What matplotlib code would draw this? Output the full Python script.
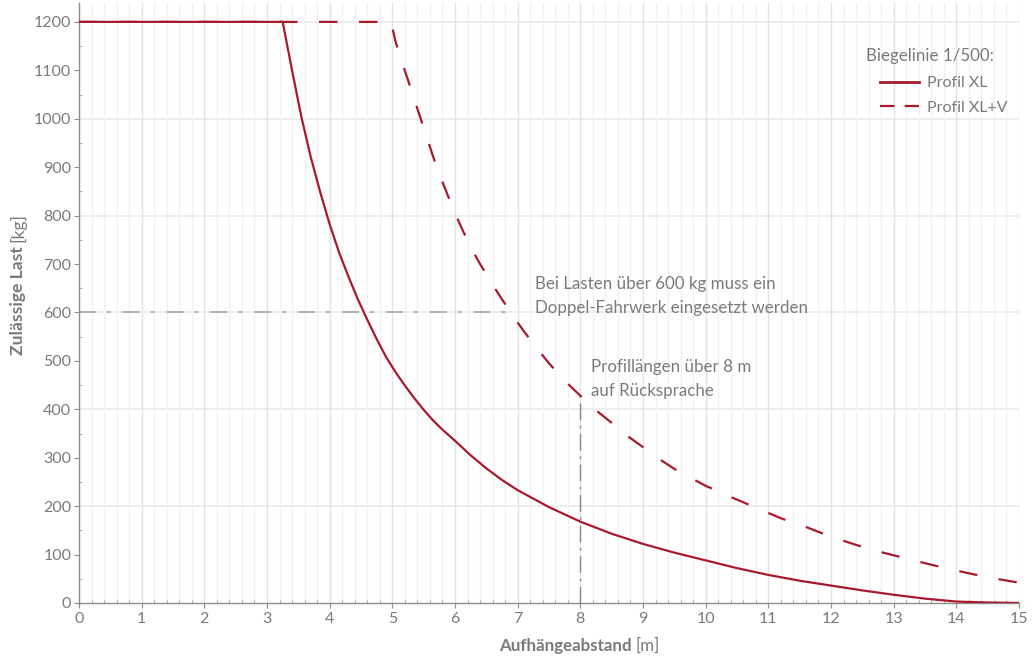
import matplotlib
matplotlib.use("Agg")
import matplotlib.pyplot as plt
from matplotlib.lines import Line2D
from matplotlib.ticker import MultipleLocator

plt.rcParams['font.family'] = ['Lato', 'DejaVu Sans']

# ---- data ----
x_xl = [0, 3.25, 3.4, 3.55, 3.7, 3.85, 4.0, 4.15, 4.3, 4.45, 4.6, 4.75, 4.9, 5.05,
        5.2, 5.35, 5.5, 5.65, 5.8, 6.0, 6.25, 6.5, 6.75, 7.0, 7.5, 8.0, 8.5, 9.0,
        9.5, 10.0, 10.5, 11.0, 11.5, 12.0, 12.5, 13.0, 13.5, 14.0, 14.5, 15.0]
y_xl = [1200, 1200, 1100, 1003, 920, 848, 782, 724, 674, 627, 585, 545, 508, 477,
        449, 423, 399, 377, 358, 335, 305, 278, 254, 233, 198, 168, 143, 122,
        104, 88, 72, 58, 46, 36, 26, 17, 9, 3, 1, 0]

x_xlv = [0, 4.98, 5.05, 5.15, 5.25, 5.35, 5.45, 5.55, 5.65, 5.75, 5.875, 6.0, 6.125,
         6.25, 6.4, 6.6, 6.75, 6.95, 7.1, 7.3, 7.5, 7.75, 8.0, 8.25, 8.5, 8.75, 9.0,
         9.25, 9.5, 9.75, 10.0, 10.4, 10.8, 11.2, 11.6, 12.0, 12.4, 12.8, 13.2, 13.6,
         14.0, 14.5, 15.0]
y_xlv = [1200, 1200, 1160, 1118, 1080, 1040, 1001, 962, 922, 886, 845, 805, 769,
         735, 700, 657, 627, 588, 561, 527, 495, 459, 428, 398, 372, 345, 322,
         298, 277, 259, 242, 219, 197, 175, 157, 137, 120, 105, 92, 79,
         67, 53, 42]

limit_load = 600          # Doppel-Fahrwerk limit
limit_load_x_end = 6.82   # where XL+V meets 600 kg
limit_length = 8          # Profillänge limit
limit_length_y_end = 430

series_labels = ['Profil XL', 'Profil XL+V']
legend_title = 'Biegelinie 1/500:'
note_load = 'Bei Lasten über 600 kg muss ein\nDoppel-Fahrwerk eingesetzt werden'
note_length = 'Profillängen über 8 m\nauf Rücksprache'

RED = '#A8192E'
GRAY_TXT = '#7a7a7a'
FS = 11.5
FS_T = 12.2

W, H = 1034, 662
fig = plt.figure(figsize=(W / 100, H / 100), dpi=100)
ax = fig.add_axes([79 / W, 1 - 603 / H, 940 / W, 600 / H])

ax.set_xlim(0, 15)
ax.set_ylim(0, 1239)

# grid
ax.xaxis.set_major_locator(MultipleLocator(1))
ax.xaxis.set_minor_locator(MultipleLocator(0.2))
ax.yaxis.set_major_locator(MultipleLocator(100))
ax.yaxis.set_minor_locator(MultipleLocator(50))
ax.grid(which='major', axis='x', color='#e3e3e3', lw=1.0, zorder=0)
ax.grid(which='minor', axis='x', color='#f1f1f1', lw=1.0, zorder=0)
for yv in range(200, 1201, 200):
    ax.axhline(yv, color='#e8e8e8', lw=1.1, zorder=0.5)

for s in ['top', 'right']:
    ax.spines[s].set_visible(False)
for s in ['left', 'bottom']:
    ax.spines[s].set_color('#8c8c8c')
    ax.spines[s].set_linewidth(1.0)

ax.tick_params(which='major', direction='out', length=3.5, color='#8c8c8c',
               labelcolor=GRAY_TXT, labelsize=FS, pad=2)
ax.tick_params(which='minor', direction='in', length=2.5, color='#a0a0a0')
ax.tick_params(axis='x', which='major', pad=3)

# reference lines
ax.plot([0, limit_load_x_end], [limit_load, limit_load], color='#a0a0a0', lw=1.1,
        linestyle=(0, (11, 7.2, 2.6, 7.9)), zorder=2)
ax.plot([limit_length, limit_length], [0, limit_length_y_end], color='#8a8a8a', lw=1.0,
        linestyle=(0, (12, 4, 2, 4)), zorder=2)

# curves
ax.plot(x_xlv, y_xlv, color=RED, lw=1.6, linestyle=(0, (8.3, 9.7)), zorder=3,
        dash_capstyle='butt', dash_joinstyle='round')
ax.plot(x_xl, y_xl, color=RED, lw=1.6, zorder=4, solid_joinstyle='round')

# annotations
ax.text(7.28, 633, note_load, color=GRAY_TXT, fontsize=FS_T, ha='left', va='center',
        linespacing=1.62)
ax.text(8.17, 463, note_length, color=GRAY_TXT, fontsize=FS_T, ha='left', va='center',
        linespacing=1.62)

# legend (title slot kept for spacing, visible title drawn separately)
handles = [Line2D([], [], color=RED, lw=2.0),
           Line2D([], [], color=RED, lw=1.6, linestyle=(0, (6.5, 4.6)))]
leg = ax.legend(handles, series_labels, title=legend_title, loc='upper right',
                bbox_to_anchor=(1022 / W, 1 - 36 / H), bbox_transform=fig.transFigure,
                frameon=False, fontsize=FS, title_fontsize=FS_T, labelcolor=GRAY_TXT,
                handlelength=2.45, handletextpad=0.45, labelspacing=0.62)
leg.get_title().set_alpha(0)
fig.text(930 / W, 1 - 56 / H, legend_title, fontsize=FS_T, color=GRAY_TXT,
         ha='center', va='center')

# axis labels with mixed weights
fig.canvas.draw()
r = fig.canvas.get_renderer()

t1 = fig.text(499 / W, 1 - 646 / H, 'Aufhängeabstand', fontsize=FS_T, fontweight='bold',
              color=GRAY_TXT, ha='left', va='center')
bb = t1.get_window_extent(r)
fig.text((bb.x1 + 4) / W, 1 - 646 / H, '[m]', fontsize=FS_T, color=GRAY_TXT,
         ha='left', va='center')

t2 = fig.text(18 / W, 1 - 355 / H, 'Zulässige Last', fontsize=12.6, fontweight='bold',
              color=GRAY_TXT, ha='center', va='bottom', rotation=90)
bb2 = t2.get_window_extent(r)
fig.text(18 / W, (bb2.y1 + 4) / H, '[kg]', fontsize=12.6, color=GRAY_TXT,
         ha='center', va='bottom', rotation=90)

fig.savefig('out.png', dpi=100)
